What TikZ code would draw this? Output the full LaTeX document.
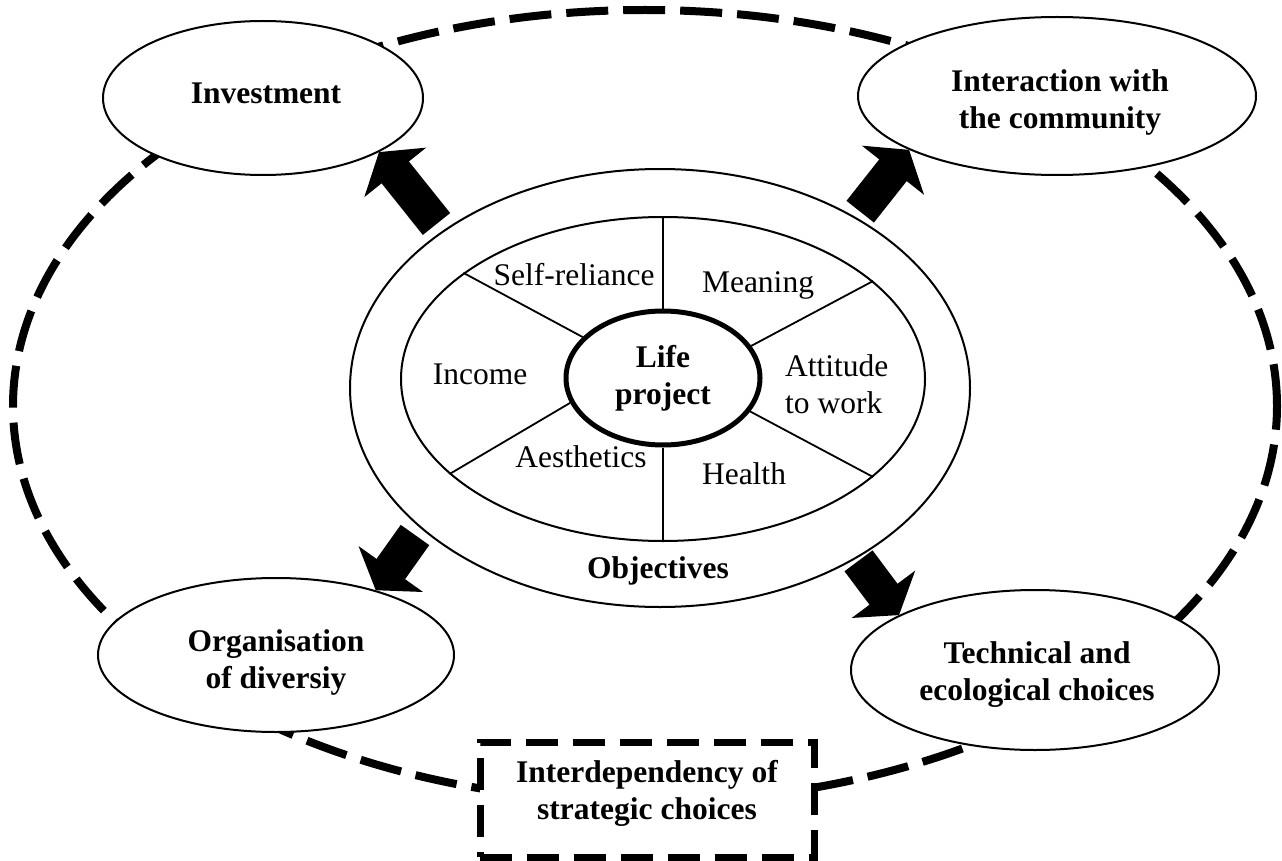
\documentclass[tikz,border=0pt]{standalone}
\usepackage{fontspec}
\setmainfont{Liberation Serif}
\usetikzlibrary{shapes.geometric,arrows.meta}
\begin{document}
\begin{tikzpicture}[x=1pt,y=-1pt,
  thinell/.style={draw, ellipse, line width=2pt, inner sep=0pt, fill=white},
  lab/.style={font=\fontsize{31.5pt}{37pt}\selectfont, inner sep=0pt},
  blab/.style={font=\fontsize{31.5pt}{37pt}\selectfont\bfseries, inner sep=0pt, align=center},
  divider/.style={line width=1.8pt},
  bigarrow/.style={line width=35pt, -{Triangle[width=78pt,length=26pt]}},
  loopdash/.style={draw, ellipse, inner sep=0pt, line width=8pt, dash pattern=on 42pt off 15pt},
  boxdash/.style={draw, rectangle, inner sep=0pt, line width=7pt, dash pattern=on 32pt off 15pt, fill=white}
]
\useasboundingbox (0,0) rectangle (1282,861);
\fill[white] (0,0) rectangle (1282,861);

% big dashed loop
\node[loopdash, minimum width=1264pt, minimum height=792pt] (loop) at (645,406) {};

% central ellipses
\node[draw, ellipse, line width=2pt, inner sep=0pt, minimum width=620pt, minimum height=438pt] (outer) at (660,388) {};
\node[draw, ellipse, line width=2pt, inner sep=0pt, minimum width=524pt, minimum height=324pt] (inner) at (663,379) {};
\node[draw, ellipse, line width=5pt, inner sep=0pt, minimum width=194pt, minimum height=134pt] (life) at (663,378) {};

% dividers
\draw[divider] (life.90) -- (inner.90);
\draw[divider] (life.270) -- (inner.270);
\draw[divider] (life.153) -- (inner.152);
\draw[divider] (life.20) -- (inner.25);
\draw[divider] (life.195) -- (inner.204);
\draw[divider] (life.-21) -- (inner.-25);

% central texts
\node[blab] (lifetxt) at (663,378.4) {Life\\project};
\node[lab, anchor=base] (tself) at (574,285) {Self-reliance};
\node[lab, anchor=base] (tmean) at (758,292) {Meaning};
\node[lab, anchor=base] (tinc) at (480,384) {Income};
\node[lab, align=left, anchor=west] (tatt) at (785,384.7) {Attitude\\to work};
\node[lab, anchor=base] (taes) at (581,467) {Aesthetics};
\node[lab, anchor=base] (thea) at (744,484) {Health};
\node[blab, anchor=base] (tobj) at (658,578) {Objectives};

% corner ellipses
\node[thinell, minimum width=320pt, minimum height=154pt] (inv) at (263,98) {};
\node[thinell, minimum width=398pt, minimum height=158pt] (int) at (1057,96) {};
\node[thinell, minimum width=356pt, minimum height=154pt] (org) at (276,655) {};
\node[thinell, minimum width=368pt, minimum height=160pt] (tec) at (1035,670) {};

\node[blab, anchor=base] (invt) at (266,104) {Investment};
\node[blab] (intt) at (1060,102.4) {Interaction with\\the community};
\node[blab] (orgt) at (276,662.4) {Organisation\\of diversiy};
\node[blab] (tect) at (1037,674.1) {Technical and\\ecological choices};

% bottom box
\node[boxdash, minimum width=334pt, minimum height=115pt] (box) at (647,799.5) {};
\node[blab] (boxt) at (647,793.6) {Interdependency of\\strategic choices};

% arrows
\coordinate (a1) at (436.5,224);
\coordinate (a2) at (860.2,211.7);
\coordinate (a3) at (415,535);
\coordinate (a4) at (858.5,560.8);
\draw[bigarrow] (a1) -- (inv.-25);
\draw[bigarrow] (a2) -- (int.200);
\draw[bigarrow] (a3) -- (org.33);
\draw[bigarrow] (a4) -- (tec.158);
\end{tikzpicture}
\end{document}
